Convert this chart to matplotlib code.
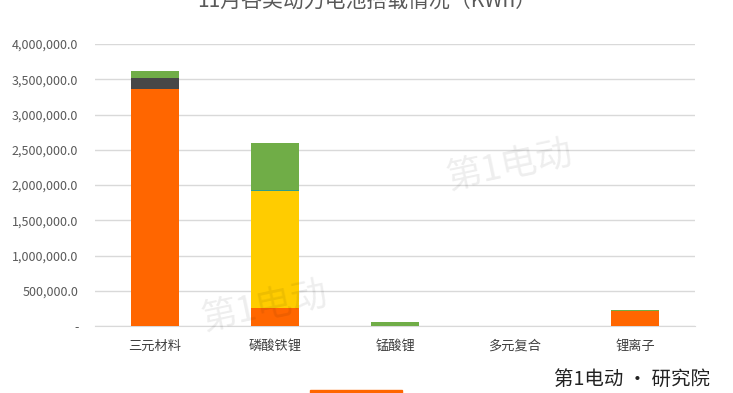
import matplotlib
matplotlib.use("Agg")
import matplotlib.pyplot as plt
from matplotlib.patches import Rectangle
import numpy as np

plt.rcParams['font.family'] = ['Noto Sans CJK SC', 'DejaVu Sans']

categories = ['三元材料', '磷酸铁锂', '锰酸锂', '多元复合', '锂离子']
# stacked segments (kWh), bottom to top
seg_orange = [3360000, 255000, 0, 0, 212000]
seg_dark = [160000, 0, 0, 0, 0]
seg_yellow = [0, 1655000, 0, 0, 0]
seg_teal = [0, 15000, 0, 0, 0]
seg_green = [100000, 665000, 50000, 0, 22000]
seg_brown = [0, 10000, 0, 0, 0]

series = [
    (seg_orange, '#FF6600'),
    (seg_dark, '#474747'),
    (seg_yellow, '#FFCC00'),
    (seg_teal, '#2F9E8A'),
    (seg_green, '#70AD47'),
    (seg_brown, '#B07A3A'),
]
yticks = np.arange(0, 4000001, 500000)

fig = plt.figure(figsize=(7.33, 3.93), dpi=100)
ax = fig.add_axes([95 / 733, 67 / 393, 600 / 733, 282 / 393])

x = np.arange(len(categories))
bottom = np.zeros(len(categories))
for vals, col in series:
    v = np.array(vals, dtype=float)
    ax.bar(x, v, width=0.4, bottom=bottom, color=col, zorder=3)
    bottom += v

ax.set_xlim(-0.5, len(categories) - 0.5)
ax.set_ylim(0, 4000000)
ax.set_yticks(yticks)
ax.set_yticklabels(['-' if t == 0 else f'{t:,.1f}' for t in yticks])
ax.grid(axis='y', color='#D9D9D9', linewidth=1, zorder=0)
for s in ['top', 'right', 'left']:
    ax.spines[s].set_visible(False)
ax.spines['bottom'].set_color('#D9D9D9')
ax.tick_params(axis='y', length=0, labelsize=9, labelcolor='#595959', pad=12)
ax.tick_params(axis='x', length=0, labelsize=9.5, labelcolor='#404040', pad=10)
ax.set_xticks(x)
ax.set_xticklabels(categories)

# faint watermarks
fig.text(0.695, 0.58, '第1电动', fontsize=26, color='black', alpha=0.07, rotation=12,
         ha='center', va='center', style='italic')
fig.text(0.36, 0.22, '第1电动', fontsize=26, color='black', alpha=0.07, rotation=12,
         ha='center', va='center', style='italic')

# title (clipped at the top of the picture, as in the source)
fig.text(0.5, 0.995, '11月各类动力电池搭载情况（KWh）', fontsize=15, color='#595959',
         ha='center', va='center')

# logo bottom right
fig.text(0.862, 0.035, '第1电动 · 研究院', fontsize=14, color='#222222',
         ha='center', va='center')

# cut-off legend swatch at the bottom
fig.patches.append(Rectangle((310 / 733, 0), 92 / 733, 3 / 393,
                             transform=fig.transFigure, color='#FF6600'))

fig.savefig('out.png', dpi=100)
